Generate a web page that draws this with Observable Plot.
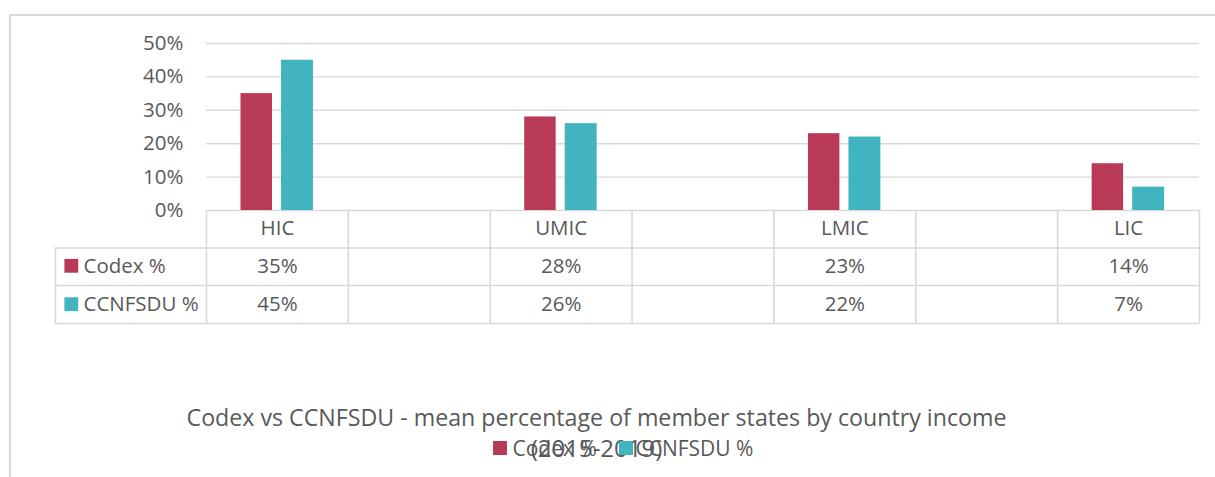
<!DOCTYPE html>
<html>
<head>
<meta charset="utf-8">
<script src="https://cdn.jsdelivr.net/npm/d3@7"></script>
<script src="https://cdn.jsdelivr.net/npm/@observablehq/plot@0.6"></script>
<style>
  html, body { margin: 0; padding: 0; background: #fff; }
  #wrap { position: relative; width: 1215px; height: 477px; overflow: hidden; font-family: "Open Sans", sans-serif; color: #595959; }
  #chart { position: absolute; left: 0; top: 0; }
  #border { position: absolute; left: 9px; top: 14px; width: 1210px; height: 470px; border-top: 2px solid #d9d9d9; border-left: 2px solid #d9d9d9; box-sizing: border-box; }
  .t { position: absolute; white-space: nowrap; line-height: 1; }
  .sw { position: absolute; width: 14px; height: 14px; }
</style>
</head>
<body>
<div id="wrap">
  <div id="chart"></div>
  <div id="border"></div>
</div>
<script>
// ---- data ----
const categories = ["HIC", "UMIC", "LMIC", "LIC"];
const codex = [0.35, 0.28, 0.23, 0.14];
const ccnfsdu = [0.45, 0.26, 0.22, 0.07];
const columns = ["HIC", "gap1", "UMIC", "gap2", "LMIC", "gap3", "LIC"]; // data-table columns (blank ones between)
const seriesNames = ["Codex %", "CCNFSDU %"];
const seriesColors = ["#B83A56", "#42B4BF"];
const yTicks = [0, 0.1, 0.2, 0.3, 0.4, 0.5];
const titleText = "Codex vs CCNFSDU - mean percentage of member states by country income";
const subtitleText = "(2015-2019)";

const data = categories.map((c, i) => ({income: c, codex: codex[i], ccnfsdu: ccnfsdu[i]}));
const pct = d3.format(".0%");

// ---- layout ----
const W = 1215, H = 330, mL = 206, mR = 16, mT = 43, mB = 120;
const bw = (W - mL - mR) / columns.length;
const grid = "#d9d9d9";
const txt = "#595959";
const fs = 20.5;
const plotH = H - mT - mB;
const rowDy = [37.5, 75, 113];
const tableLeft = 151; // extension of row lines to the left of frame

const marks = [
  Plot.ruleY(yTicks, {stroke: grid, strokeWidth: 1.4}),
  Plot.barY(data, {x: "income", y: "codex", fill: seriesColors[0], insetLeft: 34.5, insetRight: 75.9}),
  Plot.barY(data, {x: "income", y: "ccnfsdu", fill: seriesColors[1], insetLeft: 75, insetRight: 34.9}),
  // table horizontal lines
  ...rowDy.map(dy => Plot.ruleY([0], {stroke: grid, strokeWidth: 1.6, dy, insetLeft: -tableLeft})),
  // table vertical lines
  Plot.ruleX(columns, {x: d => d, dx: -bw / 2, stroke: grid, strokeWidth: 1.6, insetTop: plotH, insetBottom: -113}),
  Plot.ruleX([columns[columns.length - 1]], {x: d => d, dx: bw / 2, stroke: grid, strokeWidth: 1.6, insetTop: plotH, insetBottom: -113}),
  Plot.ruleX([columns[0]], {x: d => d, dx: -bw / 2 - tableLeft, stroke: grid, strokeWidth: 1.6, insetTop: plotH + 37.5, insetBottom: -113}),
  // header row
  Plot.text(categories, {x: d => d, frameAnchor: "bottom", lineAnchor: "middle", dy: 18, fill: txt, fontSize: fs}),
  // value rows
  Plot.text(data, {x: "income", text: d => pct(d.codex), frameAnchor: "bottom", lineAnchor: "middle", dy: 56, fill: txt, fontSize: fs}),
  Plot.text(data, {x: "income", text: d => pct(d.ccnfsdu), frameAnchor: "bottom", lineAnchor: "middle", dy: 94, fill: txt, fontSize: fs}),
  // row labels with swatches
  Plot.text([seriesNames[0]], {text: d => d, frameAnchor: "bottom-left", lineAnchor: "middle", textAnchor: "start", dx: 83 - mL, dy: 56, fill: txt, fontSize: fs}),
  Plot.text([seriesNames[1]], {text: d => d, frameAnchor: "bottom-left", lineAnchor: "middle", textAnchor: "start", dx: 83 - mL, dy: 94, fill: txt, fontSize: fs}),
  Plot.dot([seriesNames[0]], {frameAnchor: "bottom-left", symbol: "square", r: 7.8, fill: seriesColors[0], stroke: "none", dx: 70.8 - mL, dy: 55.3}),
  Plot.dot([seriesNames[1]], {frameAnchor: "bottom-left", symbol: "square", r: 7.8, fill: seriesColors[1], stroke: "none", dx: 70.8 - mL, dy: 93.7})
];

const chart = Plot.plot({
  width: W, height: H,
  marginTop: mT, marginBottom: mB, marginLeft: mL, marginRight: mR,
  style: {fontFamily: "Open Sans, sans-serif", fontSize: fs + "px", color: txt, background: "transparent", overflow: "visible"},
  x: {domain: columns, padding: 0, round: false, axis: null},
  y: {domain: [0, 0.5], ticks: yTicks, tickFormat: pct, tickSize: 0, tickPadding: 23, label: null},
  marks
});
document.getElementById("chart").appendChild(chart);

// ---- title and legend (below the table) ----
const wrap = document.getElementById("wrap");
function addText(str, left, top, size, center) {
  const d = document.createElement("div");
  d.className = "t";
  d.textContent = str;
  d.style.fontSize = size + "px";
  d.style.top = top + "px";
  d.style.left = left + "px";
  if (center) d.style.transform = "translateX(-50%)";
  wrap.appendChild(d);
  return d;
}
function addSwatch(color, left, top) {
  const s = document.createElement("div");
  s.className = "sw";
  s.style.background = color;
  s.style.left = left + "px";
  s.style.top = top + "px";
  wrap.appendChild(s);
}
addText(titleText, 596.5, 405.5, 23.2, true);
addSwatch(seriesColors[0], 493, 441);
addText(seriesNames[0], 512.5, 437.5, 21, false);
addText(subtitleText, 596.5, 436, 24, true);
addSwatch(seriesColors[1], 619, 441);
addText(seriesNames[1], 635.5, 437.5, 21, false);
</script>
</body>
</html>
